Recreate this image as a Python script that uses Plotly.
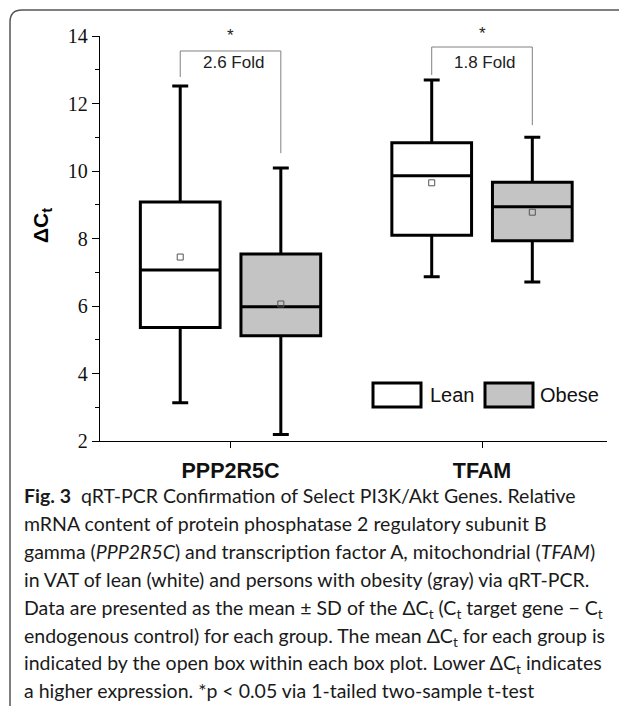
import plotly.graph_objects as go

# ---------------- data ----------------
categories = ["PPP2R5C", "TFAM"]
groups = ["Lean", "Obese"]

lean_lower = [3.13, 6.87]
lean_q1 = [5.36, 8.10]
lean_median = [7.07, 9.86]
lean_q3 = [9.08, 10.84]
lean_upper = [12.52, 12.70]
lean_mean = [7.45, 9.65]

obese_lower = [2.19, 6.71]
obese_q1 = [5.12, 7.93]
obese_median = [5.98, 8.94]
obese_q3 = [7.54, 9.67]
obese_upper = [10.09, 11.00]
obese_mean = [6.06, 8.78]

fold_labels = ["2.6 Fold", "1.8 Fold"]
sig_labels = ["*", "*"]
y_ticks = [2, 4, 6, 8, 10, 12, 14]

# ---------------- layout geometry ----------------
# the page body has an 8px default margin, so the figure is drawn 8px smaller
BODY = 8
VW, VH = 627, 706
PLOT_L, PLOT_R, PLOT_T, PLOT_B = 100, 607, 36, 441   # viewport pixels
W, H = VW - BODY, VH - BODY
ML, MT = PLOT_L - BODY, PLOT_T - BODY
MR, MB = VW - PLOT_R, VH - PLOT_B


def px(x):
    return (x - PLOT_L) / (PLOT_R - PLOT_L)


def py(y):
    return (PLOT_B - y) / (PLOT_B - PLOT_T)


fills = {"Lean": "white", "Obese": "#c4c4c4"}
offsets = {"Lean": -0.2, "Obese": 0.2}
stats = {
    "Lean": (lean_lower, lean_q1, lean_median, lean_q3, lean_upper, lean_mean),
    "Obese": (obese_lower, obese_q1, obese_median, obese_q3, obese_upper, obese_mean),
}

fig = go.Figure()
for g in groups:
    lo, q1, med, q3, up, mn = stats[g]
    xs = [i + offsets[g] for i in range(len(categories))]
    fig.add_trace(go.Box(
        x=xs, q1=q1, median=med, q3=q3, lowerfence=lo, upperfence=up,
        name=g, width=0.317, whiskerwidth=0.2,
        fillcolor=fills[g], line=dict(color="black", width=3),
        boxpoints=False, showlegend=False, hoverinfo="skip",
    ))
    fig.add_trace(go.Scatter(
        x=xs, y=mn, mode="markers", showlegend=False, hoverinfo="skip",
        marker=dict(symbol="square-open", size=6, color="#555555",
                    line=dict(width=1, color="#555555")),
    ))

shapes = []
annotations = []

# significance brackets
bracket_top = [13.556, 13.674]
bracket_left_end = [12.785, 12.844]
bracket_right_end = [10.53, 11.36]
for i in range(len(categories)):
    xl, xr = i + offsets["Lean"], i + offsets["Obese"]
    path = (f"M {xl},{bracket_left_end[i]} L {xl},{bracket_top[i]} "
            f"L {xr},{bracket_top[i]} L {xr},{bracket_right_end[i]}")
    shapes.append(dict(type="path", xref="x", yref="y", path=path,
                       line=dict(color="#808080", width=1)))
    annotations.append(dict(x=i + 0.01, y=13.22, xref="x", yref="y",
                            text=fold_labels[i], showarrow=False,
                            font=dict(family="Liberation Sans", size=17, color="#222")))
    annotations.append(dict(x=i, y=py(24 - 2 * i), xref="x", yref="paper",
                            text=sig_labels[i], showarrow=False,
                            font=dict(family="Liberation Sans", size=17, color="#222")))

# legend (manual)
leg = [("Lean", 373, 421, 428), ("Obese", 485, 533, 538)]
for name, x0, x1, tx in leg:
    shapes.append(dict(type="rect", xref="paper", yref="paper",
                       x0=px(x0), x1=px(x1), y0=py(407), y1=py(383),
                       fillcolor=fills[name], line=dict(color="black", width=3)))
    annotations.append(dict(x=px(tx), y=py(395), xref="paper", yref="paper",
                            xanchor="left", yanchor="middle", text=name,
                            showarrow=False,
                            font=dict(family="Liberation Sans", size=20, color="#111")))

# y axis title
annotations.append(dict(x=px(27), y=py(226), xref="paper", yref="paper",
                        text="<b>ΔC<sub>t</sub></b>", textangle=-90, showarrow=False,
                        font=dict(family="Liberation Sans", size=21, color="black")))

# outer frame (rounded corner)
shapes.append(dict(type="path", xref="paper", yref="paper",
                   path=(f"M {px(10)},{py(706)} L {px(10)},{py(22)} "
                         f"Q {px(10)},{py(10)} {px(22)},{py(10)} L {px(627)},{py(10)}"),
                   line=dict(color="#555555", width=1.5)))

# caption
caption = [
    "<b>Fig. 3</b>  qRT-PCR Confirmation of Select PI3K/Akt Genes. Relative",
    "mRNA content of protein phosphatase 2 regulatory subunit B",
    "gamma (<i>PPP2R5C</i>) and transcription factor A, mitochondrial (<i>TFAM</i>)",
    "in VAT of lean (white) and persons with obesity (gray) via qRT-PCR.",
    "Data are presented as the mean ± SD of the ΔC<sub>t</sub> (C<sub>t</sub> target gene − C<sub>t</sub>",
    "endogenous control) for each group. The mean ΔC<sub>t</sub> for each group is",
    "indicated by the open box within each box plot. Lower ΔC<sub>t</sub> indicates",
    "a higher expression. *p < 0.05 via 1-tailed two-sample t-test",
]
for k, line in enumerate(caption):
    annotations.append(dict(x=px(22), y=py(482 + 27.9 * k), xref="paper", yref="paper",
                            xanchor="left", yanchor="top", text=line, showarrow=False,
                            align="left",
                            font=dict(family="Lato", size=19.5, color="#1a1a1a")))

fig.update_layout(
    width=W, height=H,
    margin=dict(l=ML, r=MR, t=MT, b=MB, pad=0),
    paper_bgcolor="white", plot_bgcolor="white",
    showlegend=False,
    shapes=shapes, annotations=annotations,
    xaxis=dict(range=[-0.519, 1.497], tickvals=list(range(len(categories))),
               ticktext=[f"<b>{c}</b>" for c in categories],
               showgrid=False, zeroline=False, showline=True,
               linecolor="black", linewidth=1.3, ticks="outside", ticklen=6,
               tickcolor="black", tickwidth=1.3, ticklabelstandoff=4,
               tickfont=dict(family="Liberation Sans", size=21.5, color="#111")),
    yaxis=dict(range=[2, 14], tickvals=y_ticks, showgrid=False, zeroline=False,
               showline=True, linecolor="black", linewidth=1.3,
               ticks="outside", ticklen=7, tickcolor="black", tickwidth=1.3,
               minor=dict(ticks="outside", ticklen=4, dtick=1, tick0=1,
                          tickcolor="black", tickwidth=1.3, showgrid=False),
               tickfont=dict(family="Liberation Serif", size=20, color="#111")),
)

fig.write_html("out.html")
